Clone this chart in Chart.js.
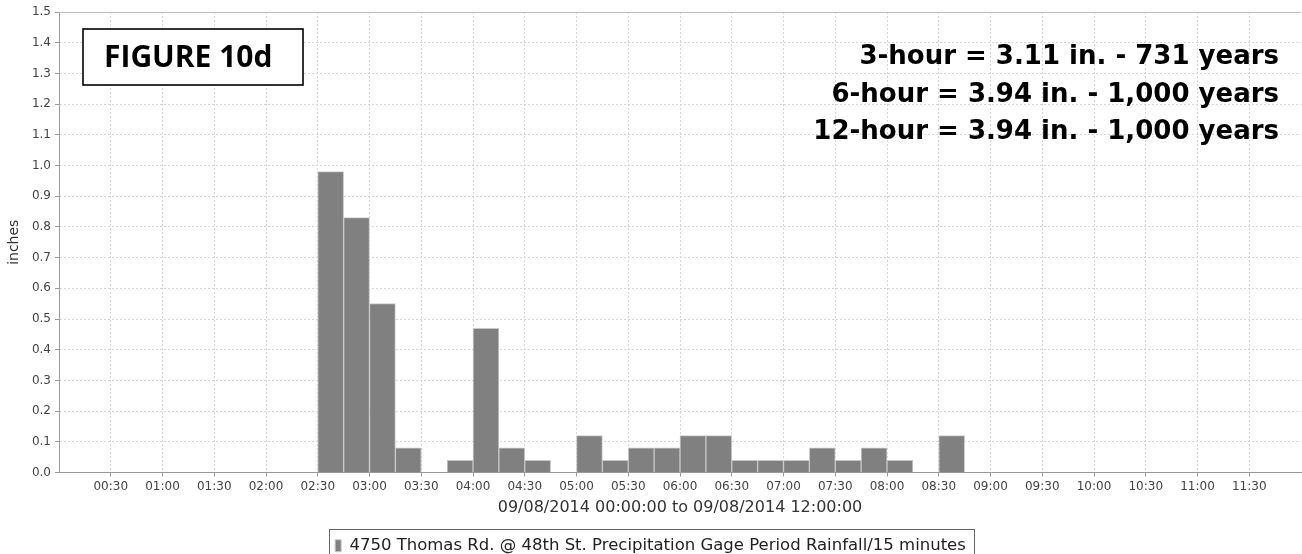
<!DOCTYPE html>
<html>
<head>
<meta charset="utf-8">
<script src="https://cdn.jsdelivr.net/npm/chart.js@4.4.1/dist/chart.umd.min.js"></script>
<style>
    html, body {
        margin: 0;
        padding: 0;
        background: #fff;
        overflow: hidden;
    }

    #wrap {
        position: relative;
        width: 1302px;
        height: 564px;
    }
</style>
</head>
<body>
<div id="wrap"><canvas id="chart"></canvas></div>
<script>
// start of each 15 minute bin and the rainfall in it (inches)
const binStarts = [
    "02:30", "02:45", "03:00", "03:15", "03:30", "03:45", "04:00", "04:15", "04:30",
    "04:45", "05:00", "05:15", "05:30", "05:45", "06:00", "06:15", "06:30", "06:45",
    "07:00", "07:15", "07:30", "07:45", "08:00", "08:15", "08:30"
];
const rainfall = [
    0.98, 0.83, 0.55, 0.08, 0.00, 0.04, 0.47, 0.08, 0.04,
    0.00, 0.12, 0.04, 0.08, 0.08, 0.12, 0.12, 0.04, 0.04,
    0.04, 0.08, 0.04, 0.08, 0.04, 0.00, 0.12
];

const tickLabels = [
    "00:30", "01:00", "01:30", "02:00", "02:30", "03:00", "03:30", "04:00",
    "04:30", "05:00", "05:30", "06:00", "06:30", "07:00", "07:30", "08:00",
    "08:30", "09:00", "09:30", "10:00", "10:30", "11:00", "11:30"
];

const seriesName = "4750 Thomas Rd. @ 48th St. Precipitation Gage Period Rainfall/15 minutes";
const xTitle = "09/08/2014 00:00:00 to 09/08/2014 12:00:00";
const yTitle = "inches";
const figureLabel = "FIGURE 10d";
const returnPeriods = [
    "3-hour = 3.11 in. - 731 years",
    "6-hour = 3.94 in. - 1,000 years",
    "12-hour = 3.94 in. - 1,000 years"
];

const BIN = 15;
const FONT = "DejaVu Sans";

function toMinutes(hhmm) {
    const [h, m] = hhmm.split(":").map(Number);
    return h * 60 + m;
}

function toHHMM(min) {
    const h = Math.floor(min / 60);
    const m = min % 60;
    return String(h).padStart(2, "0") + ":" + String(m).padStart(2, "0");
}

// bar sits in the middle of its bin
const points = binStarts.map((t, i) => ({ x: toMinutes(t) + BIN / 2, y: rainfall[i] }));

// plot outline, legend frame, figure box and return period notes
const decorations = {
    id: "decorations",
    afterDraw(chart) {
        const ctx = chart.ctx;
        const a = chart.chartArea;
        ctx.save();

        ctx.strokeStyle = "#bdbdbd";
        ctx.lineWidth = 1;
        ctx.beginPath();
        ctx.moveTo(a.left, Math.round(a.top) + 0.5);
        ctx.lineTo(a.right, Math.round(a.top) + 0.5);
        ctx.stroke();

        const hb = chart.legend.legendHitBoxes[0];
        if (hb) {
            ctx.strokeStyle = "#666";
            ctx.strokeRect(Math.round(hb.left - 6) + 0.5, Math.round(hb.top - 9) + 0.5,
                Math.round(hb.width + 14), Math.round(hb.height + 18));
        }

        ctx.fillStyle = "#fff";
        ctx.fillRect(83, 29, 220, 56);
        ctx.strokeStyle = "#000";
        ctx.lineWidth = 1.6;
        ctx.strokeRect(83, 29, 220, 56);
        ctx.fillStyle = "#000";
        ctx.font = "bold 30px 'Open Sans'";
        ctx.textAlign = "left";
        ctx.textBaseline = "alphabetic";
        ctx.fillText(figureLabel, 104, 66.5);

        ctx.font = "bold 26px '" + FONT + "'";
        ctx.textAlign = "right";
        returnPeriods.forEach((line, i) => {
            ctx.fillText(line, 1279, 64 + i * 37.5);
        });

        ctx.restore();
    }
};

const tickFont = { family: FONT, size: 12 };

new Chart(document.getElementById("chart"), {
    type: "bar",
    data: {
        datasets: [{
            label: seriesName,
            data: points,
            backgroundColor: "#808080",
            borderColor: "#c8c8c8",
            borderWidth: 1,
            borderSkipped: "start",
            categoryPercentage: 1,
            barPercentage: 1
        }]
    },
    options: {
        responsive: true,
        maintainAspectRatio: false,
        animation: false,
        layout: { padding: { top: 12, right: 1, left: 0, bottom: 0 } },
        plugins: {
            tooltip: { enabled: false },
            legend: {
                position: "bottom",
                labels: {
                    boxWidth: 6,
                    boxHeight: 12,
                    padding: 17,
                    color: "#222",
                    font: { family: FONT, size: 16.5 }
                }
            }
        },
        scales: {
            x: {
                type: "linear",
                min: 0,
                max: 12 * 60,
                offset: false,
                afterBuildTicks: s => {
                    s.ticks = tickLabels.map(t => ({ value: toMinutes(t) }));
                },
                afterFit: s => { s.height = 48; },
                ticks: {
                    autoSkip: false,
                    maxRotation: 0,
                    padding: 3,
                    color: "#444",
                    font: tickFont,
                    callback: v => toHHMM(v)
                },
                grid: { offset: false, color: "#d6d6d6", tickColor: "#999", tickLength: 4 },
                border: { color: "#999", dash: [2, 2] },
                title: {
                    display: true,
                    text: xTitle,
                    color: "#333",
                    font: { family: FONT, size: 16 },
                    padding: { top: 0, bottom: 3 }
                }
            },
            y: {
                min: 0,
                max: 1.5,
                afterFit: s => { s.width = 59; },
                ticks: {
                    stepSize: 0.1,
                    padding: 4,
                    color: "#444",
                    font: tickFont,
                    callback: v => v.toFixed(1)
                },
                grid: { color: "#d6d6d6", tickColor: "#999", tickLength: 4 },
                border: { color: "#999", dash: [2, 2] },
                title: {
                    display: true,
                    text: yTitle,
                    color: "#333",
                    font: { family: FONT, size: 14 },
                    padding: { top: 6, bottom: 0 }
                }
            }
        }
    },
    plugins: [decorations]
});
</script>
</body>
</html>
